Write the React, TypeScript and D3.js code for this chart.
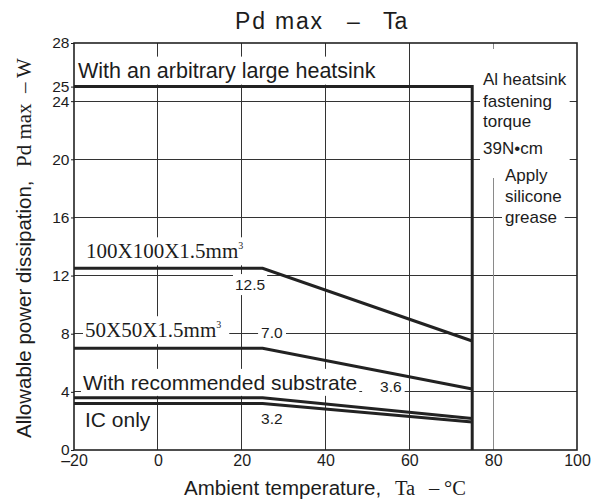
import React, { useRef, useEffect } from 'react'
import * as d3 from 'd3'

const W = 591
const H = 501

// 温度轴 / 功率轴
const taTicks = [-20, 0, 20, 40, 60, 80, 100]
const pdTicks = [0, 4, 8, 12, 16, 20, 24, 25, 28]
const gridTa = [0, 20, 40, 60, 80]
const gridPd = [4, 8, 12, 16, 20, 24]

// curves
const heatsinkTa = [-20, 75, 75]
const heatsinkPd = [25, 25, 0]
const boardTa = [-20, 25, 75]
const pd100 = [12.5, 12.5, 7.5]
const pd50 = [7.0, 7.0, 4.2]
const pdRecommended = [3.6, 3.6, 2.16]
const pdIcOnly = [3.2, 3.2, 1.92]

const SANS = '"Liberation Sans", Arial, Helvetica, sans-serif'
const SERIF = '"Liberation Serif", "Times New Roman", serif'
const INK = '#1c1c1c'

export default function App() {
  const ref = useRef<SVGSVGElement>(null)
  useEffect(() => {
    if (!ref.current) return
    const svg = d3.select(ref.current)
    svg.selectAll('*').remove()

    const [top, right, bottom, left] = [43, 14, 51, 74]
    const x = d3.scaleLinear().domain([-20, 100]).range([left, W - right])
    const y = d3.scaleLinear().domain([0, 28]).range([H - bottom, top])

    // grid
    const grid = svg.append('g').attr('shape-rendering', 'crispEdges')
    grid.selectAll('.hg').data(gridPd).enter().append('line')
      .attr('x1', x(-20)).attr('x2', x(100))
      .attr('y1', d => y(d)).attr('y2', d => y(d))
      .attr('stroke', '#333').attr('stroke-width', 1)
    grid.selectAll('.vg').data(gridTa).enter().append('line')
      .attr('x1', d => x(d)).attr('x2', d => x(d))
      .attr('y1', y(0)).attr('y2', y(28))
      .attr('stroke', d => (d === 80 ? '#8a8a8a' : '#333')).attr('stroke-width', 1)

    const bg = svg.append('g')
    const curves = svg.append('g')
    const frame = svg.append('g')
    const labels = svg.append('g').attr('fill', INK)

    function label(text: string, px: number, py: number, size: number, family = SANS, anchor = 'start') {
      const t = labels.append('text')
        .attr('x', px).attr('y', py)
        .attr('font-size', size).attr('font-family', family)
        .attr('text-anchor', anchor)
      t.append('tspan').text(text)
      return {
        t,
        cover(pad = 2, padLeft = pad, padRight = pad) {
          const b = (t.node() as SVGTextElement).getBBox()
          bg.append('rect')
            .attr('x', b.x - padLeft).attr('y', b.y - pad)
            .attr('width', b.width + padLeft + padRight).attr('height', b.height + pad * 2)
            .attr('fill', 'white')
        },
      }
    }

    // curves
    const line = d3.line<[number, number]>().x(d => x(d[0])).y(d => y(d[1]))
    const boards = [pd100, pd50, pdRecommended, pdIcOnly]
    const paths: [number, number][][] = [
      heatsinkTa.map((t, i) => [t, heatsinkPd[i]] as [number, number]),
      ...boards.map(p => boardTa.map((t, i) => [t, p[i]] as [number, number])),
    ]
    curves.selectAll('path').data(paths).enter().append('path')
      .attr('d', d => line(d))
      .attr('fill', 'none')
      .attr('stroke', '#222')
      .attr('stroke-width', 3)
      .attr('stroke-linejoin', 'miter')

    // frame
    frame.append('rect')
      .attr('x', x(-20)).attr('y', y(28))
      .attr('width', x(100) - x(-20)).attr('height', y(0) - y(28))
      .attr('fill', 'none').attr('stroke', '#222').attr('stroke-width', 1.6)

    // axes
    const yAxis = svg.append('g')
      .attr('transform', `translate(${left},0)`)
      .call(d3.axisLeft(y).tickValues(pdTicks).tickSize(3).tickPadding(1.5).tickFormat(d => String(d)))
    yAxis.select('.domain').remove()
    yAxis.attr('font-family', SANS).attr('font-size', 15.5).attr('color', INK)

    const xAxis = svg.append('g')
      .attr('transform', `translate(0,${y(0)})`)
      .call(d3.axisBottom(x).tickValues(taTicks).tickSize(0).tickPadding(4.5)
        .tickFormat(d => (Number(d) < 0 ? '\u2013' + Math.abs(Number(d)) : String(d))))
    xAxis.select('.domain').remove()
    xAxis.attr('font-family', SANS).attr('font-size', 16).attr('color', INK)

    // in-plot labels
    label('With an arbitrary large heatsink', x(-20) + 4, y(25) - 9, 21.5).cover()

    const l100 = label('100X100X1.5mm', x(-20) + 12, y(12.5) - 10, 21, SERIF)
    l100.t.append('tspan').text('3').attr('font-size', 10).attr('dy', -9)
    l100.cover()
    label('12.5', x(22), y(12) + 14.5, 15.5, SANS, 'middle').cover()

    const l50 = label('50X50X1.5mm', x(-20) + 11, y(8) + 3.5, 21, SERIF)
    l50.t.append('tspan').text('3').attr('font-size', 10).attr('dy', -9)
    l50.cover(2, 2, 8)
    label('7.0', x(27.2), y(8) + 4, 15.5, SANS, 'middle').cover(3)

    label('With recommended substrate', x(-20) + 9, y(4) - 2, 21).cover()
    label('3.6', x(55.6), y(4), 15.5, SANS, 'middle').cover(2, 18, 3)
    label('IC only', x(-20) + 11, y(0) - 23, 21).cover()
    label('3.2', x(27.2), y(0) - 26, 15.5, SANS, 'middle').cover()

    // right annotations
    const blockA = ['Al heatsink', 'fastening', 'torque', '39N\u2022cm']
    const blockAy = [85, 107, 127, 154]
    const blockB = ['Apply', 'silicone', 'grease']
    const blockBy = [181, 202, 223]
    const aNodes = blockA.map((s, i) => label(s, 483, blockAy[i], 17))
    const bNodes = blockB.map((s, i) => label(s, 505, blockBy[i], 17))
    const boxOf = (arr: { t: d3.Selection<SVGTextElement, unknown, null, undefined> }[]) => {
      const bs = arr.map(n => (n.t.node() as SVGTextElement).getBBox())
      return {
        x0: d3.min(bs, b => b.x)!, x1: d3.max(bs, b => b.x + b.width)!,
        y0: d3.min(bs, b => b.y)!, y1: d3.max(bs, b => b.y + b.height)!,
      }
    }
    const ba = boxOf(aNodes as any)
    const bb = boxOf(bNodes as any)
    bg.append('rect')
      .attr('x', ba.x0 - 3).attr('y', y(28) + 6)
      .attr('width', ba.x1 - ba.x0 + 6).attr('height', bb.y0 + 12 - (y(28) + 6))
      .attr('fill', 'white')
    bg.append('rect')
      .attr('x', bb.x0 - 3).attr('y', bb.y0 - 2)
      .attr('width', bb.x1 - bb.x0 + 6).attr('height', bb.y1 - bb.y0 + 2)
      .attr('fill', 'white')

    // title
    const title = svg.append('g').attr('font-family', SANS).attr('font-size', 23).attr('fill', INK)
    title.append('text').attr('x', 235).attr('y', 29).attr('letter-spacing', 1.8).text('Pd max')
    title.append('text').attr('x', 347).attr('y', 29).text('\u2013')
    title.append('text').attr('x', 383).attr('y', 29).text('Ta')

    // x label
    const xl = svg.append('g').attr('fill', INK).attr('font-size', 20.5)
    xl.append('text').attr('x', 184).attr('y', 495).attr('font-family', SANS).text('Ambient temperature,')
    xl.append('text').attr('x', 395).attr('y', 495).attr('font-family', SERIF).text('Ta')
    xl.append('text').attr('x', 429).attr('y', 495).attr('font-family', SERIF).text('\u2013')
    xl.append('text').attr('x', 444).attr('y', 495).attr('font-family', SERIF).text('\u00b0C')

    // y label
    const yl = svg.append('g').attr('fill', INK)
    const rot = (px: number, py: number) => `translate(${px},${py}) rotate(-90)`
    yl.append('text').attr('transform', rot(31, 438)).attr('font-family', SANS).attr('font-size', 20.5)
      .text('Allowable power dissipation,')
    yl.append('text').attr('transform', rot(31, 167)).attr('font-family', SERIF).attr('font-size', 21)
      .text('Pd max')
    yl.append('text').attr('transform', rot(31, 93)).attr('font-family', SERIF).attr('font-size', 21)
      .text('\u2013')
    yl.append('text').attr('transform', rot(31, 78)).attr('font-family', SERIF).attr('font-size', 21)
      .text('W')
  }, [])
  return (
    <div style={{ position: 'absolute', left: 0, top: 0 }}>
      <svg ref={ref} width={W} height={H} style={{ display: 'block', background: 'white' }} />
    </div>
  )
}
